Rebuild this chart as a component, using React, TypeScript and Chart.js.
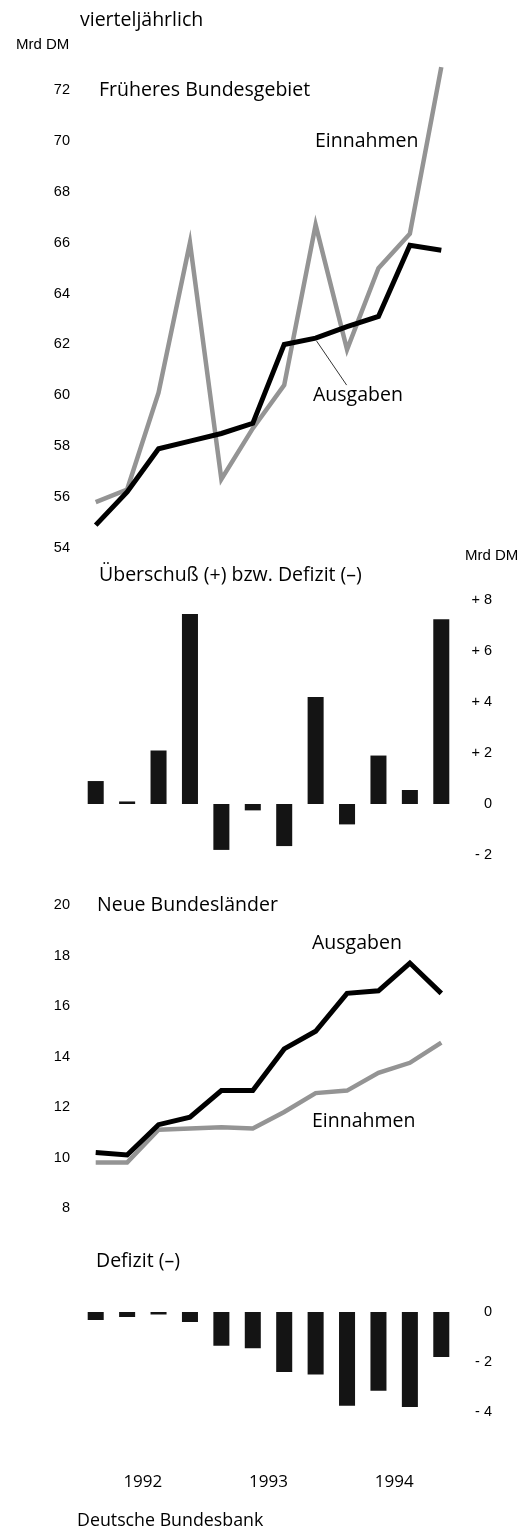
import React, { useEffect, useRef } from 'react';
import { Chart, registerables } from 'chart.js';

Chart.register(...registerables);

// ---------- data ----------
const quarters = [
  '1992 Q1', '1992 Q2', '1992 Q3', '1992 Q4',
  '1993 Q1', '1993 Q2', '1993 Q3', '1993 Q4',
  '1994 Q1', '1994 Q2', '1994 Q3', '1994 Q4',
];

// Früheres Bundesgebiet (Mrd DM)
const westAusgaben = [54.9, 56.2, 57.9, 58.2, 58.5, 58.9, 62.0, 62.25, 62.7, 63.1, 65.9, 65.7];
const westEinnahmen = [55.8, 56.3, 60.1, 66.0, 56.7, 58.7, 60.4, 66.7, 61.8, 65.0, 66.35, 72.9];
const westSaldo = [0.9, 0.1, 2.1, 7.45, -1.8, -0.25, -1.65, 4.2, -0.8, 1.9, 0.55, 7.25];

// Neue Bundesländer (Mrd DM)
const eastAusgaben = [10.2, 10.1, 11.3, 11.6, 12.65, 12.65, 14.3, 15.0, 16.5, 16.6, 17.7, 16.5];
const eastEinnahmen = [9.8, 9.8, 11.1, 11.15, 11.2, 11.15, 11.8, 12.55, 12.65, 13.35, 13.75, 14.55];
const eastSaldo = [-0.32, -0.2, -0.1, -0.4, -1.35, -1.45, -2.4, -2.5, -3.75, -3.15, -3.8, -1.8];

// tick values
const westTicks = [54, 56, 58, 60, 62, 64, 66, 68, 70, 72];
const westSaldoTicks = [-2, 0, 2, 4, 6, 8];
const eastTicks = [8, 10, 12, 14, 16, 18, 20];
const eastSaldoTicks = [-4, -2, 0];

// ---------- styles ----------
const TITLE_FONT = '"Open Sans", "Noto Sans", sans-serif';
const TICK_FONT = '"Liberation Sans", Arial, sans-serif';
const GRAY = '#949494';
const BAR = '#141414';
const PAGE_W = 525;
const AREA_LEFT = 80;
const AREA_RIGHT = 457;
const TITLE_SIZE = 19.5;

function fmtSigned(v: number): string {
  if (v > 0) return '+ ' + v;
  if (v < 0) return '- ' + Math.abs(v);
  return '0';
}

function yAxis(min: number, max: number, ticksArr: number[], side: 'left' | 'right', width: number, signed: boolean) {
  return {
    position: side,
    min,
    max,
    grid: { display: false, drawTicks: false },
    border: { display: false },
    afterFit: (s: any) => { s.width = width; },
    afterBuildTicks: (s: any) => { s.ticks = ticksArr.map((v) => ({ value: v })); },
    ticks: {
      padding: side === 'left' ? 10 : 0,
      crossAlign: side === 'left' ? 'near' : 'far',
      color: '#000',
      font: { family: TICK_FONT, size: 14.5 },
      callback: (v: any) => (signed ? fmtSigned(Number(v)) : String(v)),
    },
  };
}

function lineDatasets(ausgaben: number[], einnahmen: number[]) {
  return [
    {
      label: 'Ausgaben', data: ausgaben, borderColor: '#000', borderWidth: 5,
      pointRadius: 0, tension: 0, clip: false, borderJoinStyle: 'miter',
    },
    {
      label: 'Einnahmen', data: einnahmen, borderColor: GRAY, borderWidth: 4.5,
      pointRadius: 0, tension: 0, clip: false, borderJoinStyle: 'miter',
    },
  ];
}

const basePlugins = { legend: { display: false }, tooltip: { enabled: false } };

const leaderPlugin = {
  id: 'leader',
  afterDatasetsDraw(chart: any) {
    const x = chart.scales.x;
    const y = chart.scales.y;
    const x0 = x.getPixelForValue(7) + 1;
    const y0 = y.getPixelForValue(westAusgaben[7]) + 3;
    const ctx = chart.ctx;
    ctx.save();
    ctx.strokeStyle = '#000';
    ctx.lineWidth = 0.8;
    ctx.beginPath();
    ctx.moveTo(x0, y0);
    ctx.lineTo(x0 + 30, y0 + 44);
    ctx.stroke();
    ctx.restore();
  },
};

function configWestLines(): any {
  return {
    type: 'line',
    data: { labels: quarters, datasets: lineDatasets(westAusgaben, westEinnahmen) },
    options: {
      animation: false, responsive: false,
      layout: { padding: { top: 90, bottom: 27, left: 0, right: PAGE_W - AREA_RIGHT } },
      plugins: basePlugins,
      scales: {
        x: { type: 'category', offset: true, display: false },
        y: yAxis(54, 72, westTicks, 'left', AREA_LEFT, false),
      },
    },
    plugins: [leaderPlugin],
  };
}

function configBars(values: number[], min: number, max: number, ticksArr: number[], pad: any, showX: boolean): any {
  return {
    type: 'bar',
    data: {
      labels: quarters,
      datasets: [{ data: values, backgroundColor: BAR, barPercentage: 0.51, categoryPercentage: 1 }],
    },
    options: {
      animation: false, responsive: false,
      layout: { padding: pad },
      plugins: basePlugins,
      scales: {
        x: showX
          ? {
              type: 'category', offset: true,
              grid: { display: false, drawTicks: false }, border: { display: false },
              afterFit: (s: any) => { s.height = 110; },
              ticks: {
                autoSkip: false, maxRotation: 0, minRotation: 0,
                padding: 60, labelOffset: 15.7, color: '#000',
                font: { family: TITLE_FONT, size: 17 },
                callback: (_v: any, i: number) => {
                  const q = quarters[i];
                  return q.endsWith('Q2') ? q.slice(0, 4) : '';
                },
              },
            }
          : { type: 'category', offset: true, display: false },
        y: yAxis(min, max, ticksArr, 'right', 35, true),
      },
    },
  };
}

function configEastLines(): any {
  return {
    type: 'line',
    data: { labels: quarters, datasets: lineDatasets(eastAusgaben, eastEinnahmen) },
    options: {
      animation: false, responsive: false,
      layout: { padding: { top: 25, bottom: 22, left: 0, right: PAGE_W - AREA_RIGHT } },
      plugins: basePlugins,
      scales: {
        x: { type: 'category', offset: true, display: false },
        y: yAxis(8, 20, eastTicks, 'left', AREA_LEFT, false),
      },
    },
  };
}

function ChartBox({ top, height, make }: { top: number; height: number; make: () => any }) {
  const ref = useRef<HTMLCanvasElement | null>(null);
  useEffect(() => {
    if (!ref.current) return;
    const chart = new Chart(ref.current, make());
    return () => chart.destroy();
  }, []);
  return (
    <canvas
      ref={ref}
      width={PAGE_W}
      height={height}
      style={{ position: 'absolute', left: 0, top, width: PAGE_W, height }}
    />
  );
}

function Text({ x, y, size = TITLE_SIZE, family = TITLE_FONT, children }: any) {
  return (
    <div
      style={{
        position: 'absolute', left: x, top: y - size * 0.75,
        fontSize: size, lineHeight: `${size * 1.4}px`, fontFamily: family,
        whiteSpace: 'nowrap', color: '#000',
      }}
    >
      {children}
    </div>
  );
}

export default function App() {
  return (
    <div style={{ position: 'absolute', left: 0, top: 0, width: PAGE_W, height: 1527, background: '#fff', overflow: 'hidden' }}>
      <ChartBox top={0} height={575} make={configWestLines} />
      <ChartBox
        top={575}
        height={300}
        make={() => configBars(westSaldo, -2, 8, westSaldoTicks, { top: 25, bottom: 20, left: AREA_LEFT, right: 33 }, false)}
      />
      <ChartBox top={880} height={350} make={configEastLines} />
      <ChartBox
        top={1240}
        height={287}
        make={() => configBars(eastSaldo, -4, 0, eastSaldoTicks, { top: 72, bottom: 5, left: AREA_LEFT, right: 33 }, true)}
      />

      <Text x={80} y={20}>vierteljährlich</Text>
      <Text x={16} y={44} size={15} family={TICK_FONT}>Mrd DM</Text>
      <Text x={99} y={90}>Früheres Bundesgebiet</Text>
      <Text x={315} y={141}>Einnahmen</Text>
      <Text x={313} y={395}>Ausgaben</Text>
      <Text x={99} y={575}>Überschuß (+) bzw. Defizit (–)</Text>
      <Text x={465} y={555} size={15} family={TICK_FONT}>Mrd DM</Text>
      <Text x={97} y={905}>Neue Bundesländer</Text>
      <Text x={312} y={943}>Ausgaben</Text>
      <Text x={312} y={1121}>Einnahmen</Text>
      <Text x={96} y={1261}>Defizit (–)</Text>
      <Text x={77} y={1520} size={17.8}>Deutsche Bundesbank</Text>
    </div>
  );
}
